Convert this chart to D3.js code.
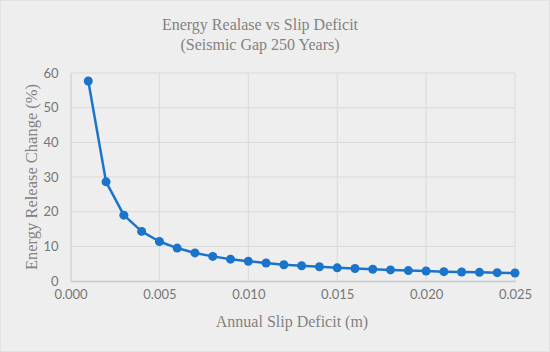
<!DOCTYPE html>
<meta charset="utf-8">
<style>
body { margin: 0; background: #fff; }
.tick text { font-family: Lato, "Open Sans", sans-serif; font-size: 13px; fill: #767676; }
.title, .axis-title { font-family: "Liberation Serif", serif; fill: #828282; }
</style>
<body>
<script src="https://d3js.org/d3.v7.min.js"></script>
<script>

var width = 550,
    height = 352;

// annual slip deficit (m) and energy release change (%)
var slip = [0.001, 0.002, 0.003, 0.004, 0.005, 0.006, 0.007, 0.008, 0.009, 0.010,
            0.011, 0.012, 0.013, 0.014, 0.015, 0.016, 0.017, 0.018, 0.019, 0.020,
            0.021, 0.022, 0.023, 0.024, 0.025];
var release = [57.7, 28.6, 19.0, 14.3, 11.4, 9.5, 8.1, 7.1, 6.3, 5.7,
               5.2, 4.7, 4.4, 4.1, 3.8, 3.6, 3.4, 3.2, 3.0, 2.9,
               2.7, 2.6, 2.5, 2.4, 2.3];
var xTicks = [0, 0.005, 0.010, 0.015, 0.020, 0.025];
var yTicks = [0, 10, 20, 30, 40, 50, 60];

var margin = {top: 73, right: 35, bottom: 71, left: 70.5};

var svg = d3.select("body").append("svg")
    .attr("width", width)
    .attr("height", height);

svg.append("rect")
    .attr("x", 0.5).attr("y", 0.5)
    .attr("width", width - 1).attr("height", height - 1)
    .attr("fill", "#eeeeee")
    .attr("stroke", "#e2e2e2");

var x = d3.scaleLinear().domain([0, 0.025]).range([margin.left, width - margin.right]);
var y = d3.scaleLinear().domain([0, 60]).range([height - margin.bottom, margin.top]);

// gridlines
svg.append("g").selectAll("line")
    .data(yTicks.slice(1))
  .enter().append("line")
    .attr("x1", x(0)).attr("x2", x(0.025))
    .attr("y1", function(d) { return y(d); })
    .attr("y2", function(d) { return y(d); })
    .attr("stroke", "#d9d9d9").attr("stroke-width", 1);

svg.append("g").selectAll("line")
    .data(xTicks.slice(1))
  .enter().append("line")
    .attr("x1", function(d) { return x(d); })
    .attr("x2", function(d) { return x(d); })
    .attr("y1", y(0)).attr("y2", y(60))
    .attr("stroke", "#d9d9d9").attr("stroke-width", 1);

// axes
var xAxis = svg.append("g")
    .attr("transform", "translate(0," + y(0) + ")")
    .call(d3.axisBottom(x).tickValues(xTicks).tickSize(0).tickPadding(9).tickFormat(d3.format(".3f")));
xAxis.select(".domain").attr("stroke", "#c8c8c8").attr("stroke-width", 1.5);

var yAxis = svg.append("g")
    .attr("transform", "translate(" + x(0) + ",0)")
    .call(d3.axisLeft(y).tickValues(yTicks).tickSize(0).tickPadding(12));
yAxis.select(".domain").attr("stroke", "#c8c8c8").attr("stroke-width", 1);

// series
var pts = slip.map(function(d, i) { return [d, release[i]]; });

svg.append("path")
    .datum(pts)
    .attr("fill", "none")
    .attr("stroke", "#1b74cc")
    .attr("stroke-width", 2.5)
    .attr("stroke-linejoin", "round")
    .attr("d", d3.line().x(function(d) { return x(d[0]); }).y(function(d) { return y(d[1]); }));

svg.append("g").selectAll("circle")
    .data(pts)
  .enter().append("circle")
    .attr("cx", function(d) { return x(d[0]); })
    .attr("cy", function(d) { return y(d[1]); })
    .attr("r", 4.5)
    .attr("fill", "#1b74cc");

// titles
svg.append("text").attr("class", "title")
    .attr("x", 260).attr("y", 30)
    .attr("text-anchor", "middle").attr("font-size", 16)
    .text("Energy Realase vs Slip Deficit");
svg.append("text").attr("class", "title")
    .attr("x", 260).attr("y", 50)
    .attr("text-anchor", "middle").attr("font-size", 16)
    .text("(Seismic Gap 250 Years)");

svg.append("text").attr("class", "axis-title")
    .attr("x", 292).attr("y", 327)
    .attr("text-anchor", "middle").attr("font-size", 16)
    .text("Annual Slip Deficit (m)");

svg.append("text").attr("class", "axis-title")
    .attr("transform", "translate(37,177) rotate(-90)")
    .attr("text-anchor", "middle").attr("font-size", 16.5)
    .text("Energy Release Change (%)");

</script>
